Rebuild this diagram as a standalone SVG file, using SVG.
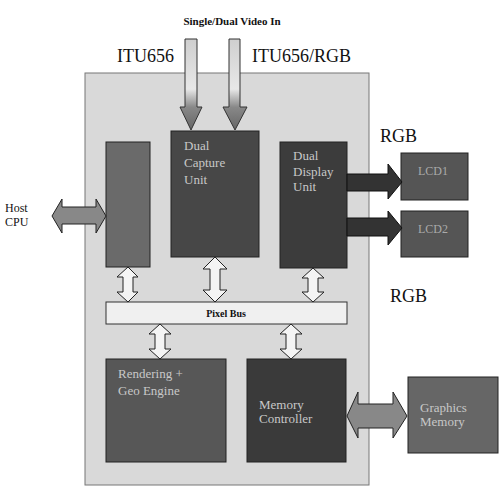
<svg xmlns="http://www.w3.org/2000/svg" width="500" height="486" viewBox="0 0 500 486">
<style>
text{font-family:"Liberation Serif","Times New Roman",serif;}
.lbl{font-size:18px;fill:#111;}
.in{font-size:13px;fill:#c8c8c8;}
.blk{stroke:#222;stroke-width:1;}
.wa{fill:#f4f4f4;stroke:#222;stroke-width:1;}
.ga{fill:#888;stroke:#222;stroke-width:1;}
.da{fill:#333;stroke:#111;stroke-width:1;}
</style>
<defs>
<linearGradient id="gin" x1="0" y1="0" x2="0" y2="1">
<stop offset="0" stop-color="#cfcfcf"/>
<stop offset="0.55" stop-color="#e8e8e8"/>
<stop offset="0.75" stop-color="#888"/>
<stop offset="1" stop-color="#666"/>
</linearGradient>
</defs>
<rect width="500" height="486" fill="#fff"/>
<g id="container"><rect x="85" y="73" width="284" height="412" fill="#d9d9d9" stroke="#777" stroke-width="1"/></g>
<text x="232" y="25" text-anchor="middle" font-size="11" font-weight="bold" fill="#111">Single/Dual Video In</text>
<text class="lbl" x="117" y="62">ITU656</text>
<text class="lbl" x="252" y="62">ITU656/RGB</text>
<text class="lbl" x="380" y="142">RGB</text>
<text class="lbl" x="390" y="302">RGB</text>
<text x="5" y="212" font-size="12" fill="#111">Host</text>
<text x="5" y="226" font-size="12" fill="#111">CPU</text>
<g id="host-interface"><rect class="blk" x="106" y="142" width="44" height="125" fill="#6a6a6a"/></g>
<g id="capture"><rect class="blk" x="171" y="131" width="88" height="126" fill="#474747"/>
<text class="in" x="184" y="150">Dual</text><text class="in" x="184" y="167">Capture</text><text class="in" x="184" y="184">Unit</text></g>
<g id="display"><rect class="blk" x="280" y="142" width="67" height="126" fill="#3c3c3c"/>
<text class="in" x="293" y="160" font-size="12">Dual</text><text class="in" x="293" y="176" font-size="12">Display</text><text class="in" x="293" y="191" font-size="12">Unit</text></g>
<g id="lcd1"><rect class="blk" x="401" y="153" width="67" height="47" fill="#555"/><text x="418" y="175" font-size="12" fill="#aaa">LCD1</text></g>
<g id="lcd2"><rect class="blk" x="401" y="211" width="67" height="46" fill="#555"/><text x="418" y="233" font-size="12" fill="#aaa">LCD2</text></g>
<g id="pixel-bus"><rect x="106" y="302" width="241" height="22" fill="#f0f0f0" stroke="#333"/><text x="226" y="317" text-anchor="middle" font-size="10" font-weight="bold" fill="#111">Pixel Bus</text></g>
<g id="rendering"><rect class="blk" x="106" y="359" width="120" height="103" fill="#575757"/>
<text class="in" x="118" y="378">Rendering +</text><text class="in" x="118" y="395">Geo Engine</text></g>
<g id="memctrl"><rect class="blk" x="247" y="359" width="99" height="103" fill="#3a3a3a"/>
<text class="in" x="259" y="409" font-size="12">Memory</text><text class="in" x="259" y="423" font-size="12">Controller</text></g>
<g id="gfxmem"><rect class="blk" x="408" y="377" width="90" height="76" fill="#666"/>
<text class="in" x="420" y="412" font-size="12">Graphics</text><text class="in" x="420" y="426" font-size="12">Memory</text></g>
<g id="connectors">
<path fill="url(#gin)" stroke="#333" d="M185 39 H197 V107 H202 L191 130 L180 107 H185 Z"/>
<path fill="url(#gin)" stroke="#333" d="M229 39 H240 V107 H247 L235 130 L223 107 H229 Z"/>
<path class="ga" d="M52 216 L62 199 V207 H96 V199 L106 216 L96 233 V224 H62 V233 Z"/>
<path class="da" d="M347 174 H388 V164 L402 182 L388 199 V191 H347 Z"/>
<path class="da" d="M347 218 H388 V211 L402 228 L388 245 V236 H347 Z"/>
<path class="wa" d="M128 267 L138 277 H133 V292 H138 L128 302 L117 292 H123 V277 H117 Z"/>
<path class="wa" d="M215 257 L227 269 H220 V290 H227 L215 302 L203 290 H210 V269 H203 Z"/>
<path class="wa" d="M313 268 L324 278 H318 V292 H324 L313 302 L302 292 H308 V278 H302 Z"/>
<path class="wa" d="M160 324 L171 334 H165 V349 H171 L160 359 L149 349 H155 V334 H149 Z"/>
<path class="wa" d="M291 324 L302 334 H296 V349 H302 L291 359 L280 349 H286 V334 H280 Z"/>
<path class="ga" d="M347 416 L358 392 V404 H393 V392 L407 416 L393 438 V428 H358 V438 Z" fill="#777"/>
</g>
</svg>
